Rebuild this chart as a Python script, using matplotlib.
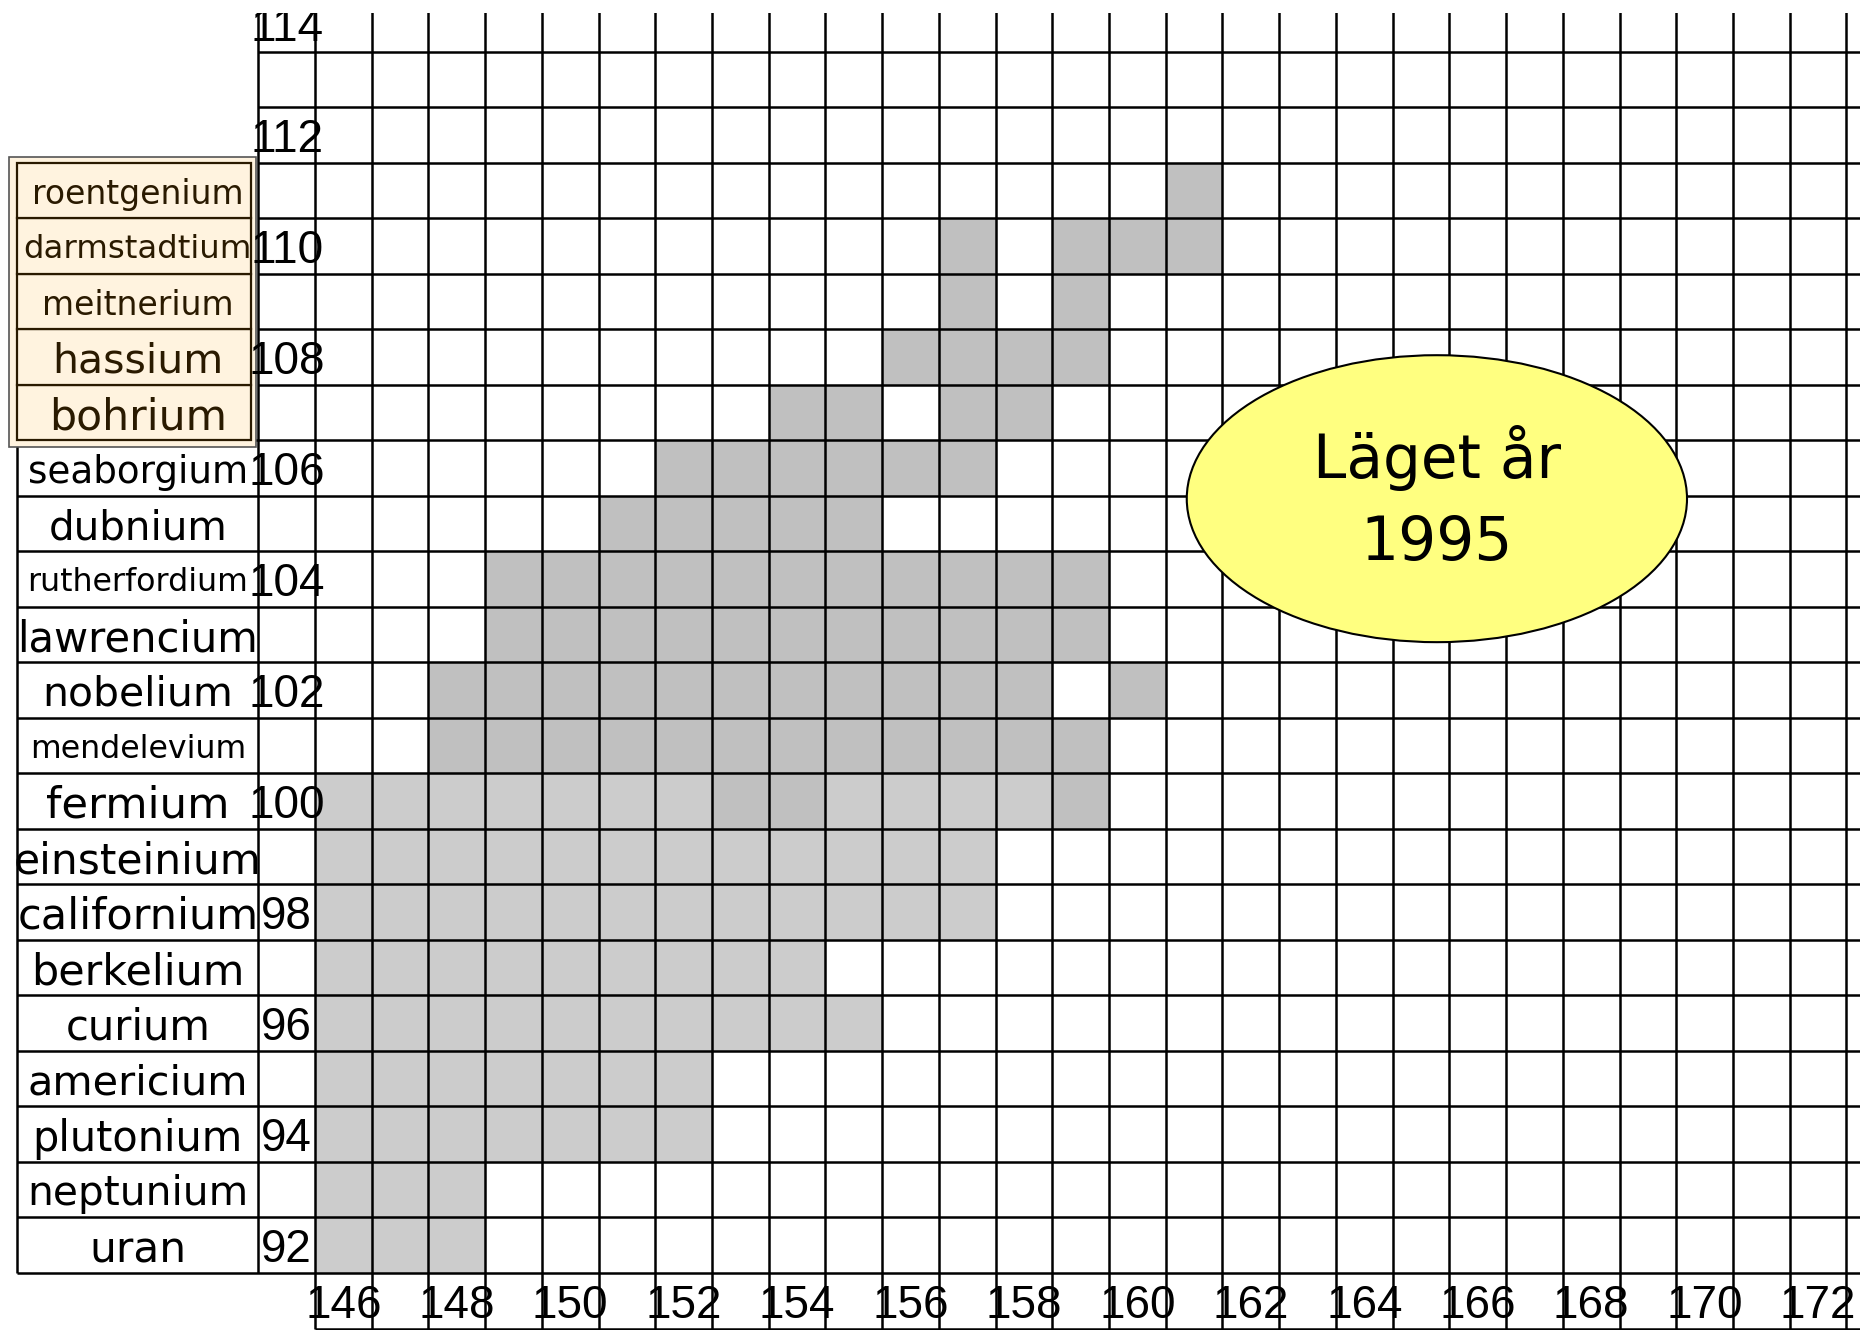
import matplotlib
matplotlib.use("Agg")
import matplotlib.pyplot as plt
from matplotlib.patches import Ellipse, Rectangle

plt.rcParams['font.family'] = ['DejaVu Sans']

# ---------------- data ----------------
element_Z = list(range(92, 112))
element_names = ["uran", "neptunium", "plutonium", "americium", "curium",
                 "berkelium", "californium", "einsteinium", "fermium",
                 "mendelevium", "nobelium", "lawrencium", "rutherfordium",
                 "dubnium", "seaborgium", "bohrium", "hassium", "meitnerium",
                 "darmstadtium", "roentgenium"]
z_tick_labels = [92, 94, 96, 98, 100, 102, 104, 106, 108, 110, 112, 114]
n_tick_labels = [146, 148, 150, 152, 154, 156, 158, 160, 162, 164, 166, 168, 170, 172]

# known nuclides, light grey: row segments (Z, first N, last N)
light_Z = [92, 93, 94, 95, 96, 97, 98, 99, 100, 100]
light_N_first = [146, 146, 146, 146, 146, 146, 146, 146, 146, 155]
light_N_last = [148, 148, 152, 152, 155, 154, 157, 157, 152, 158]

# known nuclides, darker grey
dark_Z = [100, 100, 101, 102, 102, 103, 104, 105, 106, 107, 107, 108, 109, 109, 110, 110, 111]
dark_N_first = [153, 159, 148, 148, 160, 149, 149, 151, 152, 154, 157, 156, 157, 159, 157, 159, 161]
dark_N_last = [154, 159, 159, 158, 160, 159, 159, 155, 157, 155, 158, 159, 157, 159, 157, 161, 161]

title_text = "Läget år\n1995"

# ---------------- layout / style ----------------
name_width_px = [97, 220, 210, 220, 145, 213, 241, 247, 183, 216, 190, 241,
                 220, 179, 220, 177, 171, 191, 228, 211]
light_color = "#CCCCCC"
dark_color = "#C0C0C0"
beige = "#FFF3DF"
brown = "#2A1A00"
lw = 1.8
num_family = ['Liberation Sans', 'DejaVu Sans']
num_size = 33

fig = plt.figure(figsize=(18.6, 13.3), dpi=100)
ax = fig.add_axes([0, 0, 1, 1317 / 1330])
ax.set_xlim(139.946, 172.74)
ax.set_ylim(90.473, 114.20)
ax.axis("off")

# cells
def draw_segments(zs, firsts, lasts, color):
    for z, a, b in zip(zs, firsts, lasts):
        ns = list(range(a, b + 1))
        ax.bar(ns, [1] * len(ns), bottom=z - 0.5, width=1.0,
               color=color, edgecolor="none", zorder=1)

draw_segments(light_Z, light_N_first, light_N_last, light_color)
draw_segments(dark_Z, dark_N_first, dark_N_last, dark_color)

top = 114.6
right = 173.6
n_min = n_tick_labels[0]
z_min = element_Z[0]

# grid: vertical lines
ax.vlines(n_min - 1.5, z_min - 0.5, top, color="black", lw=lw, zorder=2)
ax.vlines([n - 0.5 for n in range(n_min, 175)], z_min - 1.5, top,
          color="black", lw=lw, zorder=2)
# grid: horizontal lines
ax.hlines([z - 0.5 for z in range(z_min + 1, 116)], n_min - 1.5, right,
          color="black", lw=lw, zorder=2)
ax.hlines(z_min - 0.5, 140.25, right, color="black", lw=lw, zorder=2)
ax.hlines(z_min - 1.5, n_min - 0.5, right, color="black", lw=lw, zorder=2)

# name column (white part, Z 92-106)
ax.hlines([z - 0.5 for z in range(z_min + 1, 107)] + [106.5], 140.25, n_min - 1.5,
          color="black", lw=lw, zorder=2)
ax.vlines(140.25, z_min - 0.5, 106.5, color="black", lw=lw, zorder=2)

# beige box (Z 107-111)
ax.add_patch(Rectangle((140.105, 106.38), 144.46 - 140.105, 111.6 - 106.38,
                       facecolor=beige, edgecolor="#555555", lw=1.2, zorder=3))
for z in range(107, 112):
    ax.add_patch(Rectangle((140.25, z - 0.5), 144.37 - 140.25, 1.0,
                           facecolor=beige, edgecolor=brown, lw=1.6, zorder=3))

# element names
name_texts = []
for z, name in zip(element_Z, element_names):
    col = brown if z >= 107 else "black"
    t = ax.text(142.375, z, name, ha="center", va="center_baseline",
                fontsize=30, color=col, zorder=5, clip_on=True)
    name_texts.append(t)

# Z labels
for z in z_tick_labels:
    ax.text(n_min - 1.0, z, str(z), ha="center", va="center_baseline",
            fontsize=num_size, color="black", zorder=6, clip_on=True,
            family=num_family)

# N labels
for n in n_tick_labels:
    ax.text(n, z_min - 1.0, str(n), ha="center", va="center_baseline",
            fontsize=num_size, color="black", zorder=6, clip_on=True,
            family=num_family)

# ellipse with title
ax.add_patch(Ellipse((165.28, 105.45), 8.82, 5.17, facecolor="#FFFF80",
                     edgecolor="black", lw=1.5, zorder=7))
ax.text(165.28, 105.45, title_text, ha="center", va="center", fontsize=43,
        linespacing=1.5, color="black", zorder=8)

# fit name widths
fig.canvas.draw()
renderer = fig.canvas.get_renderer()
for t, w in zip(name_texts, name_width_px):
    bb = t.get_window_extent(renderer)
    t.set_fontsize(30 * w / bb.width)

fig.savefig("out.png", dpi=100, facecolor="white")
